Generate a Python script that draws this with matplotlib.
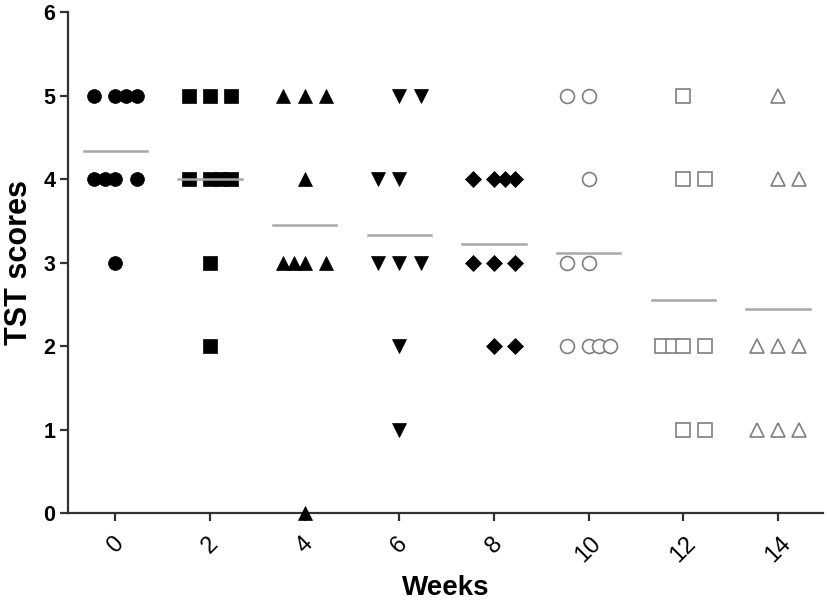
import numpy as np
import matplotlib.pyplot as plt
import matplotlib.transforms as mtransforms

plt.rcParams['font.family'] = ['Liberation Sans', 'DejaVu Sans']

weeks = [0, 2, 4, 6, 8, 10, 12, 14]
scores = [
    [5, 5, 5, 5, 4, 4, 4, 4, 3],
    [5, 5, 5, 4, 4, 4, 4, 3, 2],
    [5, 5, 5, 4, 3, 3, 3, 3, 0],
    [5, 5, 4, 4, 3, 3, 3, 2, 1],
    [4, 4, 4, 4, 3, 3, 3, 2, 2],
    [5, 5, 4, 3, 3, 2, 2, 2, 2],
    [5, 4, 4, 2, 2, 2, 2, 1, 1],
    [5, 4, 4, 2, 2, 2, 1, 1, 1],
]
# column slot of each point inside its group (scatter spreading)
slots = [
    [-2, 0, 1, 2, -2, -1, 0, 2, 0],
    [-2, 0, 2, -2, 0, 1, 2, 0, 0],
    [-2, 0, 2, 0, -2, -1, 0, 2, 0],
    [0, 2, -2, 0, -2, 0, 2, 0, 0],
    [-2, 0, 1, 2, -2, 0, 2, 0, 2],
    [-2, 0, 0, -2, 0, -2, 0, 1, 2],
    [0, 0, 2, -2, -1, 0, 2, 0, 2],
    [0, 0, 2, -2, 0, 2, -2, 0, 2],
]

markers = ['o', 's', '^', 'v', 'D', 'o', 's', '^']
sizes = [10, 10, 10, 10, 8, 10, 9.5, 9.5]
filled = [True, True, True, True, True, False, False, False]

step = 0.225
half = 0.67

fig = plt.figure(figsize=(8.27, 6.05), dpi=100)
ax = fig.add_axes([0.0822, 0.152, 0.913, 0.828])

for i, w in enumerate(weeks):
    xs = w + step * np.array(slots[i])
    ys = np.array(scores[i])
    if filled[i]:
        ax.plot(xs, ys, linestyle='none', marker=markers[i], ms=sizes[i],
                mfc='black', mec='black', mew=0.5, clip_on=False, zorder=3)
    else:
        ax.plot(xs, ys, linestyle='none', marker=markers[i], ms=sizes[i],
                mfc='white', mec='#7f7f7f', mew=1.2, clip_on=False, zorder=3)
    m = np.mean(ys)
    ax.plot([w - half, w + half], [m, m], color='#a8a8a8', lw=1.8, zorder=4)

ax.set_xlim(-1.0, 14.95)
ax.set_ylim(0, 6)
ax.set_xticks(weeks)
ax.set_yticks(range(7))
ax.set_xticklabels([str(w) for w in weeks], rotation=45, ha='center', va='top',
                   fontsize=17)
ax.set_yticklabels([str(v) for v in range(7)], fontsize=15.5, fontweight='bold')

# nudge the rotated labels a bit left like the original
shift = mtransforms.ScaledTranslation(-6 / 100, 0, fig.dpi_scale_trans)
for lab in ax.get_xticklabels():
    lab.set_transform(lab.get_transform() + shift)

for s in ['top', 'right']:
    ax.spines[s].set_visible(False)
for s in ['left', 'bottom']:
    ax.spines[s].set_linewidth(1.6)
    ax.spines[s].set_color('#333333')
ax.tick_params(axis='both', direction='out', length=6, width=1.6, color='#333333')
ax.tick_params(axis='x', pad=8)
ax.tick_params(axis='y', pad=3)

ax.set_xlabel('Weeks', fontsize=20, fontweight='bold', labelpad=6)
ax.set_ylabel('TST scores', fontsize=22, fontweight='bold', labelpad=7)

fig.savefig('out.png', dpi=100)
